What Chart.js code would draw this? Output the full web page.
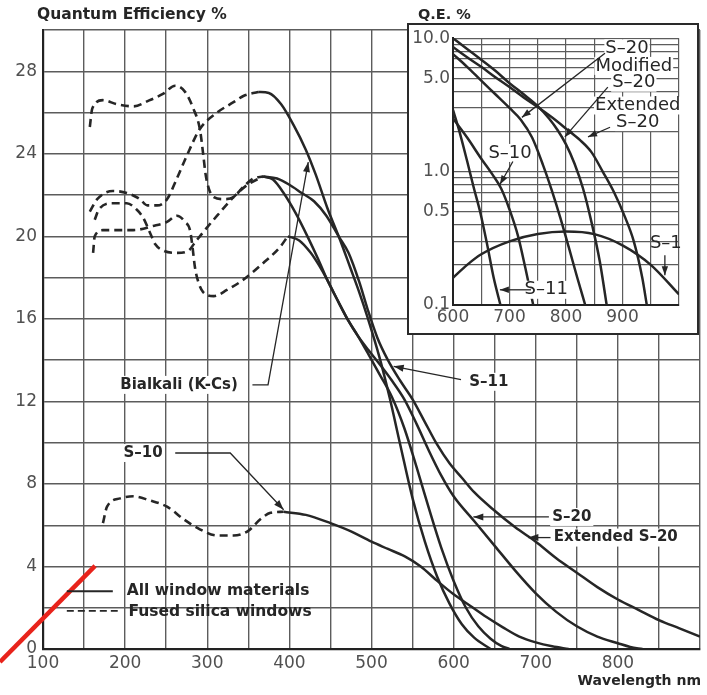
<!DOCTYPE html>
<html>
<head>
<meta charset="utf-8">
<title>Quantum Efficiency</title>
<script src="https://cdn.jsdelivr.net/npm/chart.js@4.4.0/dist/chart.umd.min.js"></script>
<style>
  body { margin: 0; background: #fff; }
  #wrap { position: relative; width: 707px; height: 695px; }
  #wrap canvas { display: block; }
  #inset { position: absolute; left: 407px; top: 23px; width: 288px; height: 308px;
           border: 2px solid #2a2a2a; background: #fff; }
</style>
</head>
<body>
<div id="wrap">
  <canvas id="mainChart" width="707" height="695"></canvas>
  <div id="inset"><canvas id="insetChart" width="288" height="308"></canvas></div>
</div>
<script>
// ---- main chart data: [wavelength nm, QE %] ----
const bialkaliSolid = [[362,27.0],[375,26.95],[390,26.4],[405,25.4],[420,24.2],[432,23.0],[446,21.4],[462,19.8],[474,18.5],[485,17.3],[495,16.1],[510,14.1],[522,12.2],[535,9.9],[550,7.3],[565,5.2],[580,3.5],[595,2.2],[610,1.2],[625,0.55],[645,0]];
const s11Solid = [[398,20.0],[412,19.8],[426,19.2],[436,18.6],[446,17.9],[460,16.8],[472,15.9],[483,15.2],[496,14.3],[510,13.3],[525,12.2],[540,10.7],[555,8.8],[570,6.8],[585,4.9],[600,3.3],[615,2.0],[630,1.1],[645,0.5],[658,0.15],[668,0]];
const s20Solid = [[368,22.9],[380,22.75],[393,22.1],[408,21.1],[422,20.0],[435,18.9],[446,17.9],[460,16.8],[472,15.9],[483,15.2],[496,14.5],[510,13.8],[525,13.0],[540,12.1],[555,10.9],[570,9.6],[585,8.4],[600,7.4],[625,6.2],[650,5.0],[675,3.8],[700,2.7],[725,1.8],[750,1.1],[775,0.6],[800,0.28],[815,0.1],[830,0]];
const extS20Solid = [[368,22.9],[385,22.8],[400,22.5],[415,22.1],[430,21.7],[445,21.0],[460,20.0],[472,19.2],[485,17.8],[495,16.5],[507,15.1],[520,14.0],[535,13.0],[550,12.1],[565,11.0],[580,9.9],[595,9.0],[610,8.3],[625,7.6],[650,6.7],[675,5.9],[700,5.2],[725,4.4],[750,3.7],[775,3.0],[800,2.4],[825,1.9],[850,1.4],[875,1.0],[900,0.6]];
const s10Solid = [[393,6.65],[420,6.5],[450,6.1],[475,5.7],[500,5.2],[520,4.85],[540,4.5],[560,4.0],[580,3.3],[600,2.65],[620,2.1],[640,1.55],[660,1.05],[680,0.6],[700,0.32],[720,0.13],[740,0]];

// fused silica (dashed) extensions
const bialkaliSilica = [[157,21.2],[166,21.8],[185,22.2],[202,22.1],[218,21.8],[227,21.5],[239,21.5],[251,21.8],[263,22.8],[275,23.9],[291,25.2],[312,26.0],[332,26.5],[344,26.8],[362,27.0]];
const extS20Silica = [[157,25.3],[160,26.2],[173,26.6],[190,26.4],[210,26.3],[230,26.6],[246,26.9],[261,27.3],[273,27.0],[283,26.2],[291,25.2],[295,24.0],[298,23.0],[302,22.3],[308,21.9],[320,21.8],[332,21.9],[344,22.4],[356,22.8],[368,22.9]];
const s20Silica = [[163,20.8],[168,21.3],[185,21.6],[202,21.6],[214,21.3],[222,20.9],[230,20.2],[237,19.6],[247,19.3],[263,19.2],[277,19.3],[285,19.7],[295,20.2],[312,21.0],[332,21.9],[349,22.5],[368,22.9]];
const s11Silica = [[161,19.2],[163,20.0],[173,20.3],[190,20.3],[210,20.3],[234,20.5],[251,20.7],[263,21.0],[273,20.7],[279,20.3],[282,19.5],[285,18.5],[289,17.8],[295,17.3],[308,17.1],[324,17.4],[344,17.9],[368,18.7],[389,19.5],[398,20.0]];
const s10Silica = [[173,6.1],[178,6.9],[194,7.3],[210,7.4],[230,7.2],[251,6.9],[271,6.3],[291,5.8],[312,5.5],[332,5.5],[349,5.7],[365,6.3],[377,6.6],[393,6.65]];

// red pen stroke on the scan
const redStroke = [[47.6,-0.63],[163.4,4.03]];

const mainLabelNm = [100,200,300,400,500,600,700,800];
const mainLabelQE = [0,4,8,12,16,20,24,28];

// ---- inset data: [wavelength nm, QE %] (log scale) ----
const insetS20 = [[600,7.6],[625,6.1],[650,4.8],[675,3.8],[700,3.0],[720,2.45],[740,1.8],[760,1.1],[775,0.72],[790,0.45],[805,0.27],[820,0.16],[834,0.1]];
const insetModS20 = [[600,10],[625,8.3],[650,6.9],[675,5.7],[700,4.6],[725,3.8],[750,3.1],[770,2.5],[785,2.05],[800,1.6],[815,1.15],[830,0.75],[845,0.42],[860,0.21],[872,0.1]];
const insetExtS20 = [[600,8.6],[625,7.2],[650,6.1],[675,5.1],[700,4.3],[725,3.6],[750,3.05],[775,2.55],[800,2.1],[825,1.72],[845,1.4],[865,1.0],[885,0.7],[905,0.45],[920,0.3],[935,0.16],[943,0.1]];
const insetS10 = [[600,2.5],[625,1.8],[650,1.25],[670,0.95],[685,0.75],[700,0.52],[715,0.33],[728,0.19],[742,0.1]];
const insetS11 = [[600,2.9],[610,2.1],[625,1.2],[637,0.75],[648,0.5],[660,0.29],[672,0.16],[684,0.1]];
const insetS1 = [[600,0.16],[625,0.2],[650,0.24],[700,0.3],[750,0.34],[800,0.355],[850,0.34],[900,0.28],[950,0.2],[1000,0.12]];

const insetLabelNm = [600,700,800,900];
const insetGridQE = [0.1,0.2,0.3,0.4,0.5,0.6,0.7,0.8,0.9,1,2,3,4,5,6,7,8,9,10];
const insetLabelQE = [0.1,0.5,1,5,10];

// callouts (text anchor + leader path, in data units)
const mainCallouts = [
  { text: 'Bialkali (K-Cs)', at: [194, 12.8], path: [[355,12.8],[374,12.8],[423,23.6]] },
  { text: 'S–10', at: [198, 9.5], path: [[261,9.5],[328,9.5],[393,6.75]] },
  { text: 'S–11', at: [619, 12.95], path: [[609,13.06],[527,13.7]] },
  { text: 'S–20', at: [720, 6.4], path: [[716,6.4],[624,6.4]] },
  { text: 'Extended S–20', at: [722, 5.4], path: [[718,5.4],[691,5.4]] }
];
const insetTexts = [
  { text: 'S–20', at: [908, 8.4] },
  { text: 'Modified', at: [920, 6.2] },
  { text: 'S–20', at: [920, 4.64] },
  { text: 'Extended', at: [927, 3.13] },
  { text: 'S–20', at: [927, 2.35] },
  { text: 'S–10', at: [701, 1.38] },
  { text: 'S–11', at: [765, 0.13] }
];
const insetArrows = [
  [[869,7.7],[722,2.55]],
  [[874,4.3],[798,1.82]],
  [[878,2.15],[839,1.82]],
  [[706,1.19],[683,0.8]],
  [[738,0.13],[683,0.13]],
  [[975,0.236],[975,0.167]]
];

const INK = '#262626';
const GRID = '#5c5c5c';
const TICK = '#505050';

Chart.defaults.font.family = '"DejaVu Sans", sans-serif';

function pts(arr) { return arr.map(p => ({ x: p[0], y: p[1] })); }

function solid(label, arr) {
  return { label: label, data: pts(arr), borderColor: INK, borderWidth: 2.5, pointRadius: 0,
           cubicInterpolationMode: 'monotone', fill: false };
}
function dashed(label, arr) {
  const d = solid(label, arr);
  d.borderDash = [8, 5];
  d.borderWidth = 2.6;
  return d;
}

function drawArrow(ctx, p, len, w) {
  ctx.beginPath();
  ctx.moveTo(p[0][0], p[0][1]);
  for (let i = 1; i < p.length; i++) ctx.lineTo(p[i][0], p[i][1]);
  ctx.stroke();
  const [x2, y2] = p[p.length - 1];
  const [x1, y1] = p[p.length - 2];
  const a = Math.atan2(y2 - y1, x2 - x1);
  const bx = x2 - len * Math.cos(a), by = y2 - len * Math.sin(a);
  ctx.beginPath();
  ctx.moveTo(x2, y2);
  ctx.lineTo(bx + w * Math.sin(a), by - w * Math.cos(a));
  ctx.lineTo(bx - w * Math.sin(a), by + w * Math.cos(a));
  ctx.closePath();
  ctx.fill();
}

const mainNotes = {
  id: 'mainNotes',
  afterDatasetsDraw(chart) {
    const { ctx, scales: { x, y } } = chart;
    const px = p => [x.getPixelForValue(p[0]), y.getPixelForValue(p[1])];
    ctx.save();
    ctx.strokeStyle = INK;
    ctx.fillStyle = INK;
    ctx.lineWidth = 1.3;
    ctx.font = 'bold 15px "DejaVu Sans"';
    ctx.textBaseline = 'middle';
    ctx.textAlign = 'left';
    mainCallouts.forEach(c => {
      const [tx, ty] = px(c.at);
      const w = ctx.measureText(c.text).width;
      ctx.fillStyle = '#fff';
      ctx.fillRect(tx - 2, ty - 9, w + 4, 18);
      ctx.fillStyle = INK;
      ctx.fillText(c.text, tx, ty);
      drawArrow(ctx, c.path.map(px), 10, 3.5);
    });

    // legend
    ctx.lineWidth = 1.8;
    let a = px([129, 2.8]), b = px([185, 2.8]);
    ctx.beginPath(); ctx.moveTo(a[0], a[1]); ctx.lineTo(b[0], b[1]); ctx.stroke();
    a = px([129, 1.85]); b = px([191, 1.85]);
    ctx.setLineDash([7, 4]);
    ctx.beginPath(); ctx.moveTo(a[0], a[1]); ctx.lineTo(b[0], b[1]); ctx.stroke();
    ctx.setLineDash([]);
    ctx.font = 'bold 15.5px "DejaVu Sans"';
    ctx.fillText('All window materials', ...px([202, 2.8]));
    ctx.fillText('Fused silica windows', ...px([204, 1.8]));

    // titles
    ctx.font = 'bold 15.5px "DejaVu Sans"';
    ctx.fillText('Quantum Efficiency %', 37, 15);
    ctx.font = 'bold 14.5px "DejaVu Sans"';
    ctx.fillText('Q.E. %', 418, 15);
    ctx.textAlign = 'right';
    ctx.font = 'bold 14px "DejaVu Sans"';
    ctx.fillText('Wavelength nm', 701, 681);
    ctx.restore();
  }
};

const insetNotes = {
  id: 'insetNotes',
  afterDatasetsDraw(chart) {
    const { ctx, scales: { x, y } } = chart;
    const px = p => [x.getPixelForValue(p[0]), y.getPixelForValue(p[1])];
    ctx.save();
    ctx.fillStyle = INK;
    ctx.strokeStyle = INK;
    ctx.lineWidth = 1.3;
    ctx.font = '18px "DejaVu Sans"';
    ctx.textBaseline = 'middle';
    ctx.textAlign = 'center';
    insetTexts.forEach(t => {
      const [tx, ty] = px(t.at);
      const w = ctx.measureText(t.text).width;
      ctx.fillStyle = '#fff';
      ctx.fillRect(tx - w / 2 - 1, ty - 9, w + 2, 18);
      ctx.fillStyle = INK;
      ctx.fillText(t.text, tx, ty);
    });
    ctx.textAlign = 'right';
    const [sx, sy] = px([1005, 0.29]);
    ctx.fillText('S–1', sx, sy);
    insetArrows.forEach(p => drawArrow(ctx, p.map(px), 9, 3.2));
    ctx.restore();
  }
};

const tickFont = { family: '"DejaVu Sans"', size: 17 };

new Chart(document.getElementById('mainChart'), {
  type: 'line',
  data: {
    datasets: [
      solid('Bialkali (K-Cs)', bialkaliSolid),
      solid('S-11', s11Solid),
      solid('S-20', s20Solid),
      solid('Extended S-20', extS20Solid),
      solid('S-10', s10Solid),
      dashed('Bialkali (fused silica)', bialkaliSilica),
      dashed('Extended S-20 (fused silica)', extS20Silica),
      dashed('S-20 (fused silica)', s20Silica),
      dashed('S-11 (fused silica)', s11Silica),
      dashed('S-10 (fused silica)', s10Silica),
      { label: 'mark', data: pts(redStroke), borderColor: '#e8231b', borderWidth: 4.5,
        pointRadius: 0, clip: false }
    ]
  },
  options: {
    responsive: false,
    animation: false,
    devicePixelRatio: 1,
    layout: { padding: { top: 30, right: 7, left: 0, bottom: 0 } },
    plugins: { legend: { display: false }, tooltip: { enabled: false } },
    scales: {
      x: {
        type: 'linear', min: 100, max: 900,
        afterFit: s => { s.height = 46; },
        ticks: { stepSize: 50, autoSkip: false, maxRotation: 0, padding: 4, color: TICK, font: tickFont,
                 callback: v => mainLabelNm.includes(v) ? String(v) : '' },
        grid: { color: GRID, lineWidth: 1.4, drawTicks: false },
        border: { color: '#222', width: 2.2 }
      },
      y: {
        min: 0, max: 30,
        afterFit: s => { s.width = 43; },
        ticks: { stepSize: 2, autoSkip: false, padding: 6, color: TICK, font: tickFont,
                 callback: v => mainLabelQE.includes(v) ? String(v) : '' },
        grid: { color: GRID, lineWidth: 1.4, drawTicks: false },
        border: { color: '#222', width: 2.2 }
      }
    }
  },
  plugins: [mainNotes]
});

new Chart(document.getElementById('insetChart'), {
  type: 'line',
  data: {
    datasets: [
      solid('S-20', insetS20),
      solid('Modified S-20', insetModS20),
      solid('Extended S-20', insetExtS20),
      solid('S-10', insetS10),
      solid('S-11', insetS11),
      solid('S-1', insetS1)
    ]
  },
  options: {
    responsive: false,
    animation: false,
    devicePixelRatio: 1,
    layout: { padding: { top: 10, right: 18, left: 0, bottom: 0 } },
    plugins: { legend: { display: false }, tooltip: { enabled: false } },
    scales: {
      x: {
        type: 'linear', min: 600, max: 1000,
        afterFit: s => { s.height = 28; },
        ticks: { stepSize: 50, autoSkip: false, maxRotation: 0, padding: 2, color: TICK, font: tickFont,
                 callback: v => insetLabelNm.includes(v) ? String(v) : '' },
        grid: { color: GRID, lineWidth: 1.2, drawTicks: false },
        border: { color: '#222', width: 2 }
      },
      y: {
        type: 'logarithmic', min: 0.1, max: 10,
        afterFit: s => { s.width = 44; },
        afterBuildTicks: s => { s.ticks = insetGridQE.map(v => ({ value: v })); },
        ticks: { autoSkip: false, padding: 3, color: TICK, font: tickFont,
                 callback: v => insetLabelQE.some(l => Math.abs(l - v) < 1e-9) ? Number(v).toFixed(1) : '' },
        grid: { color: GRID, lineWidth: 1.2, drawTicks: false },
        border: { color: '#222', width: 2 }
      }
    }
  },
  plugins: [insetNotes]
});
</script>
</body>
</html>
